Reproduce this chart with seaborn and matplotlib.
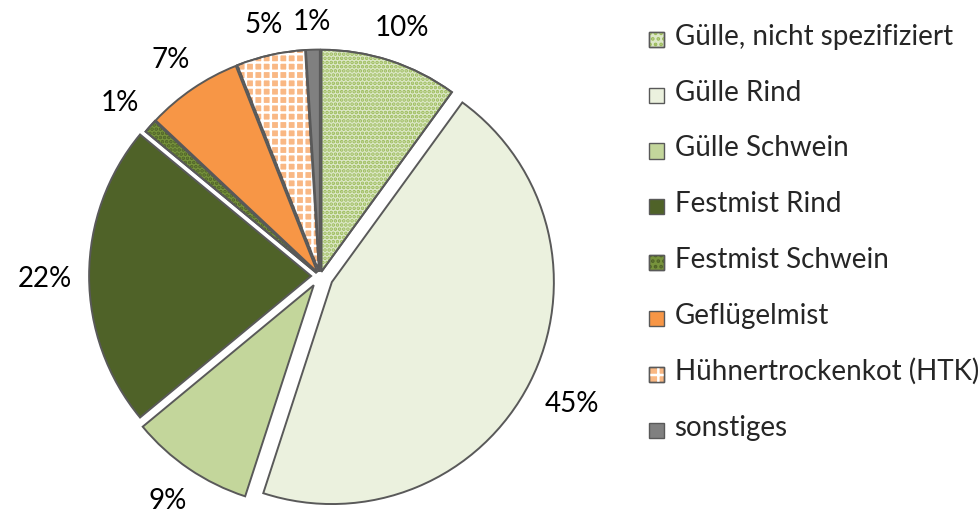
import matplotlib
matplotlib.use("Agg")
import numpy as np
import matplotlib.pyplot as plt
import matplotlib.patches as mpatches
from matplotlib.legend_handler import HandlerBase
import seaborn as sns

sns.set_style("white")
plt.rcParams["font.family"] = ["Lato", "DejaVu Sans"]
plt.rcParams["hatch.linewidth"] = 1.8

# Anteile der Wirtschaftsdünger (%)
categories = ["Gülle, nicht spezifiziert", "Gülle Rind", "Gülle Schwein",
              "Festmist Rind", "Festmist Schwein", "Geflügelmist",
              "Hühnertrockenkot (HTK)", "sonstiges"]
shares = [10, 45, 9, 22, 1, 7, 5, 1]

fills = ["#DDE8C8", "#EBF1DE", "#C3D69B", "#4F6228",
         "#77933C", "#F79646", "#F9B884", "#808080"]
hatches = ["....", None, None, None, "....", None, "++", None]
hatch_cols = ["#9BBB59", None, None, None, "#4F6228", None, "#FFFFFF", None]
explode = [0.02, 0.06, 0.05, 0.04, 0.02, 0.02, 0.02, 0.02]
edge = "#595959"
FS = 20

W, H = 979, 514
fig = plt.figure(figsize=(W / 100, H / 100), dpi=100)
R = 222.0
cx, cy = 320, 276
half = 1.45
side = 2 * half * R
ax = fig.add_axes([(cx - side / 2) / W, (H - cy - side / 2) / H, side / W, side / H])

# base fill with outlines and percentage labels
wedges, texts, autotexts = ax.pie(
    shares, colors=fills, startangle=90, counterclock=False, explode=explode,
    autopct="%1.0f%%", pctdistance=1.2, radius=1,
    wedgeprops=dict(edgecolor=edge, linewidth=1.4),
    textprops=dict(fontsize=FS, color="black"))

ax.set_xlim(-half, half)
ax.set_ylim(-half, half)
ax.set_aspect("equal")
ax.axis("off")

# patterned overlays
for w, h, hc in zip(wedges, hatches, hatch_cols):
    if h:
        ax.add_patch(mpatches.Wedge(w.center, w.r, w.theta1, w.theta2,
                                    facecolor="none", edgecolor=hc, linewidth=0, hatch=h))
        ax.add_patch(mpatches.Wedge(w.center, w.r, w.theta1, w.theta2,
                                    facecolor="none", edgecolor=edge, linewidth=1.4))

# place each percentage just outside its slice, box edge a fixed gap from the rim
fig.canvas.draw()
renderer = fig.canvas.get_renderer()
gap = 17.0 / R
for w, t in zip(wedges, autotexts):
    ang = np.deg2rad(0.5 * (w.theta1 + w.theta2))
    ux, uy = np.cos(ang), np.sin(ang)
    bb = t.get_window_extent(renderer)
    bw, bh = bb.width / R, bb.height / R
    d = 1.0 + gap + 0.5 * bw * abs(ux) + 0.5 * bh * abs(uy)
    x0, y0 = w.center
    dy = -3.0 / R if uy > 0 else 0.0
    t.set_position((x0 + d * ux, y0 + d * uy + dy))
    t.set_ha("center")
    t.set_va("center")


class SquareHandler(HandlerBase):
    def __init__(self, fc, h, hc):
        super().__init__()
        self.fc, self.h, self.hc = fc, h, hc

    def create_artists(self, legend, orig, xd, yd, width, height, fontsize, trans):
        s = height
        arts = [mpatches.Rectangle((xd, yd), s, s, facecolor=self.fc,
                                   edgecolor=edge, linewidth=1.0, transform=trans)]
        if self.h:
            arts.append(mpatches.Rectangle((xd, yd), s, s, facecolor="none",
                                           edgecolor=self.hc, linewidth=0,
                                           hatch="..." if "." in self.h else "+",
                                           transform=trans))
            arts.append(mpatches.Rectangle((xd, yd), s, s, facecolor="none",
                                           edgecolor=edge, linewidth=1.0, transform=trans))
        return arts


handles = [mpatches.Patch(label=c) for c in categories]
hmap = {hd: SquareHandler(f, h, hc) for hd, f, h, hc in zip(handles, fills, hatches, hatch_cols)}
fig.legend(handles=handles, labels=categories, handler_map=hmap,
           loc="upper left", bbox_to_anchor=(649 / W, 1 - 24 / H),
           frameon=False, fontsize=FS, handlelength=0.47, handleheight=0.47,
           handletextpad=0.45, labelspacing=1.07, borderaxespad=0, borderpad=0)

fig.savefig("out.png", dpi=100)
